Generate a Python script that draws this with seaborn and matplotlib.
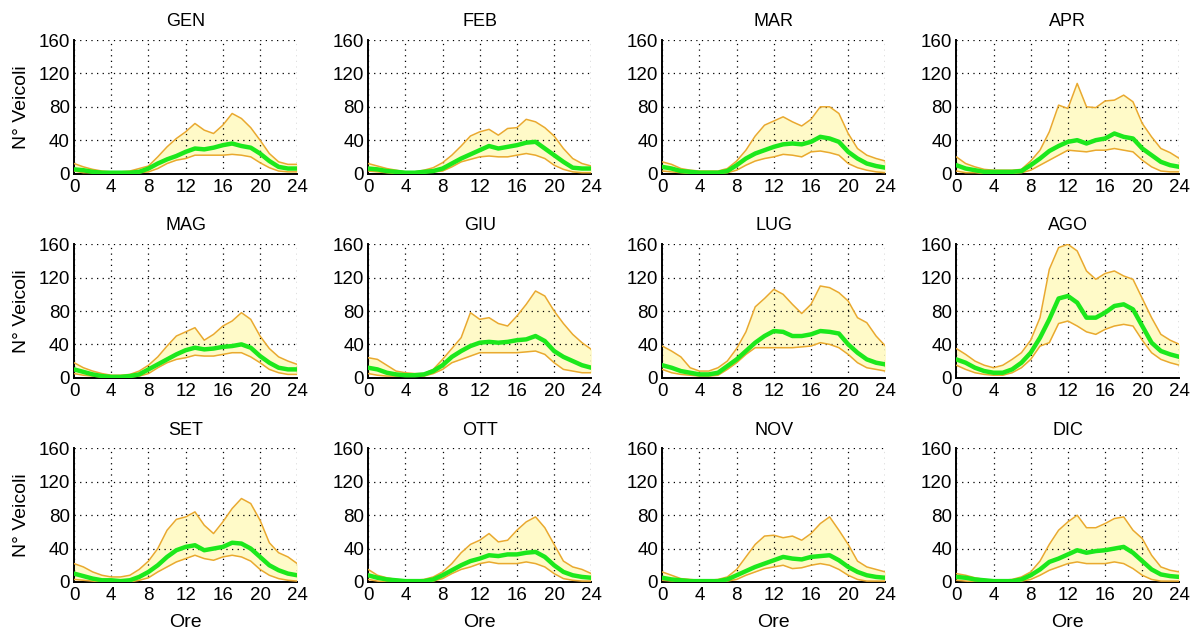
import numpy as np
import matplotlib
matplotlib.use("Agg")
import matplotlib.pyplot as plt
import seaborn as sns

# ore del giorno (campioni orari)
ore = list(range(25))

mesi = ["GEN", "FEB", "MAR", "APR", "MAG", "GIU", "LUG", "AGO", "SET", "OTT", "NOV", "DIC"]

gen_max = [12, 8, 5, 3, 2, 2, 3, 6, 9, 20, 32, 42, 50, 60, 52, 48, 58, 72, 66, 55, 40, 24, 14, 11, 11]
gen_med = [5, 4, 2, 1, 1, 1, 1, 2, 6, 12, 17, 21, 26, 30, 29, 31, 34, 36, 33, 31, 24, 15, 8, 6, 6]
gen_min = [3, 1, 1, 0, 0, 0, 0, 1, 2, 6, 12, 16, 18, 22, 22, 22, 22, 23, 22, 20, 13, 7, 3, 2, 2]

feb_max = [12, 9, 6, 4, 2, 2, 4, 7, 13, 22, 33, 45, 50, 53, 46, 54, 55, 65, 62, 55, 45, 30, 18, 12, 9]
feb_med = [6, 5, 3, 2, 1, 1, 2, 3, 6, 12, 18, 23, 28, 33, 30, 32, 34, 37, 38, 30, 22, 14, 7, 6, 6]
feb_min = [3, 2, 1, 0, 0, 0, 1, 2, 3, 8, 14, 17, 20, 21, 20, 20, 22, 24, 22, 18, 10, 5, 2, 1, 1]

mar_max = [14, 11, 6, 4, 3, 3, 3, 6, 15, 28, 45, 58, 63, 68, 62, 57, 65, 80, 80, 72, 48, 30, 22, 18, 15]
mar_med = [8, 6, 3, 2, 1, 1, 1, 3, 10, 18, 24, 28, 32, 35, 36, 35, 38, 44, 42, 38, 26, 18, 12, 9, 7]
mar_min = [3, 2, 1, 0, 0, 0, 0, 1, 4, 10, 15, 18, 20, 23, 22, 20, 26, 27, 25, 22, 12, 7, 4, 2, 1]

apr_max = [20, 12, 8, 5, 4, 4, 4, 5, 15, 28, 50, 82, 78, 108, 80, 79, 87, 88, 94, 86, 60, 44, 30, 25, 18]
apr_med = [10, 6, 4, 2, 2, 2, 2, 3, 10, 18, 27, 33, 38, 40, 36, 40, 42, 48, 44, 42, 30, 22, 14, 10, 8]
apr_min = [3, 1, 1, 0, 0, 0, 0, 1, 4, 10, 16, 22, 28, 27, 26, 28, 28, 30, 28, 26, 16, 8, 3, 2, 2]

mag_max = [18, 12, 8, 5, 3, 3, 4, 8, 15, 25, 38, 50, 55, 60, 45, 52, 62, 68, 78, 70, 50, 35, 25, 20, 16]
mag_med = [10, 7, 4, 2, 1, 1, 2, 4, 10, 16, 22, 28, 33, 36, 34, 35, 37, 38, 40, 36, 26, 18, 12, 10, 10]
mag_min = [5, 3, 2, 1, 1, 1, 1, 2, 5, 12, 18, 22, 24, 27, 26, 26, 28, 30, 30, 25, 18, 10, 6, 4, 4]

giu_max = [24, 22, 15, 8, 6, 5, 5, 10, 22, 35, 48, 78, 70, 72, 65, 62, 74, 88, 104, 98, 80, 65, 52, 42, 34]
giu_med = [12, 10, 6, 4, 3, 3, 4, 8, 15, 25, 32, 38, 42, 43, 42, 43, 45, 46, 50, 44, 32, 25, 20, 15, 12]
giu_min = [5, 3, 2, 2, 2, 2, 2, 5, 10, 18, 22, 26, 30, 30, 30, 30, 30, 31, 32, 28, 18, 10, 8, 6, 6]

lug_max = [38, 32, 25, 12, 8, 8, 12, 20, 35, 55, 85, 95, 106, 100, 88, 77, 88, 110, 108, 102, 92, 72, 66, 50, 38]
lug_med = [15, 12, 8, 6, 4, 4, 6, 14, 22, 32, 42, 50, 56, 55, 50, 50, 52, 56, 55, 53, 40, 30, 22, 18, 16]
lug_min = [10, 6, 4, 3, 2, 2, 3, 10, 18, 28, 36, 36, 36, 36, 36, 37, 38, 42, 40, 36, 28, 18, 12, 10, 8]

ago_max = [35, 28, 20, 15, 12, 15, 22, 30, 45, 72, 130, 156, 160, 152, 128, 118, 125, 128, 122, 118, 95, 72, 52, 45, 40]
ago_med = [22, 18, 12, 8, 6, 6, 10, 18, 30, 48, 70, 95, 98, 90, 72, 72, 78, 86, 88, 82, 62, 42, 32, 28, 25]
ago_min = [15, 10, 6, 4, 3, 3, 6, 12, 22, 38, 42, 65, 68, 62, 55, 52, 58, 62, 64, 62, 45, 30, 22, 18, 15]

set_max = [22, 18, 12, 8, 6, 6, 8, 15, 25, 40, 62, 75, 78, 84, 68, 58, 72, 88, 100, 94, 74, 47, 35, 30, 22]
set_med = [10, 7, 4, 2, 2, 1, 2, 6, 12, 20, 30, 38, 42, 44, 38, 40, 42, 47, 46, 40, 30, 20, 14, 10, 8]
set_min = [3, 2, 1, 0, 0, 0, 0, 2, 5, 12, 18, 24, 28, 32, 28, 26, 30, 32, 30, 25, 15, 8, 4, 2, 1]

ott_max = [15, 8, 5, 3, 2, 2, 3, 6, 12, 22, 35, 45, 50, 58, 48, 50, 62, 72, 78, 65, 45, 25, 18, 15, 10]
ott_med = [8, 5, 3, 2, 1, 1, 1, 3, 8, 14, 20, 25, 28, 32, 31, 33, 33, 35, 36, 30, 20, 12, 8, 6, 5]
ott_min = [3, 1, 0, 0, 0, 0, 0, 1, 4, 10, 15, 18, 22, 24, 22, 22, 22, 24, 22, 18, 10, 4, 2, 1, 1]

nov_max = [12, 8, 4, 3, 2, 2, 3, 6, 15, 30, 45, 55, 56, 53, 55, 50, 58, 70, 78, 62, 45, 25, 18, 15, 12]
nov_med = [5, 3, 2, 1, 1, 1, 1, 3, 8, 13, 18, 22, 26, 30, 28, 27, 30, 31, 32, 26, 18, 12, 8, 6, 5]
nov_min = [2, 1, 0, 0, 0, 0, 0, 1, 3, 8, 12, 16, 18, 20, 16, 17, 20, 22, 20, 15, 8, 3, 1, 1, 1]

dic_max = [10, 8, 5, 3, 2, 2, 3, 6, 12, 25, 45, 62, 72, 80, 65, 65, 70, 76, 78, 62, 52, 32, 18, 14, 12]
dic_med = [6, 5, 3, 2, 1, 1, 1, 3, 8, 15, 24, 28, 33, 38, 35, 37, 38, 40, 42, 35, 25, 15, 9, 7, 6]
dic_min = [2, 1, 0, 0, 0, 0, 0, 1, 3, 8, 14, 18, 22, 24, 22, 22, 22, 24, 22, 16, 8, 3, 1, 1, 1]

serie_max = [gen_max, feb_max, mar_max, apr_max, mag_max, giu_max,
             lug_max, ago_max, set_max, ott_max, nov_max, dic_max]
serie_med = [gen_med, feb_med, mar_med, apr_med, mag_med, giu_med,
             lug_med, ago_med, set_med, ott_med, nov_med, dic_med]
serie_min = [gen_min, feb_min, mar_min, apr_min, mag_min, giu_min,
             lug_min, ago_min, set_min, ott_min, nov_min, dic_min]

x_ticks = [0, 4, 8, 12, 16, 20, 24]
y_ticks = [0, 40, 80, 120, 160]

col_arancio = "#E9A92F"
col_giallo = "#FFFAC8"
col_verde = "#1CE81C"

sns.set_style("white")
plt.rcParams["font.family"] = ["Liberation Sans", "DejaVu Sans"]
plt.rcParams["text.color"] = "black"
plt.rcParams["axes.labelcolor"] = "black"

fig, axes = plt.subplots(3, 4, figsize=(11.95, 6.36), dpi=100)
fig.subplots_adjust(left=0.062, right=0.987, top=0.937, bottom=0.085,
                    wspace=0.318, hspace=0.53)

for i, ax in enumerate(axes.flat):
    ax.fill_between(ore, serie_min[i], serie_max[i], color=col_giallo, lw=0, zorder=1)
    sns.lineplot(x=ore, y=serie_max[i], ax=ax, color=col_arancio, linewidth=1.1, zorder=3)
    sns.lineplot(x=ore, y=serie_min[i], ax=ax, color=col_arancio, linewidth=1.1, zorder=3)
    sns.lineplot(x=ore, y=serie_med[i], ax=ax, color=col_verde, linewidth=3.2, zorder=4)

    ax.set_xlim(0, 24)
    ax.set_ylim(0, 160)
    ax.set_xticks(x_ticks)
    ax.set_yticks(y_ticks)
    ax.grid(True, color="black", linestyle=(0, (1, 3.5)), linewidth=0.9, zorder=2)
    ax.set_axisbelow(False)
    for s in ["top", "right"]:
        ax.spines[s].set_visible(False)
    for s in ["left", "bottom"]:
        ax.spines[s].set_color("black")
        ax.spines[s].set_linewidth(1.4)
    ax.tick_params(axis="y", direction="in", length=3, width=1, labelsize=13.5,
                   pad=3, colors="black")
    ax.tick_params(axis="x", direction="in", length=3, width=1, labelsize=13.5,
                   pad=4, colors="black")
    ax.set_title(mesi[i], fontsize=13, pad=10, color="black")
    if i % 4 == 0:
        ax.set_ylabel("N° Veicoli", fontsize=14, labelpad=6)
    if i >= 8:
        ax.set_xlabel("Ore", fontsize=14, labelpad=7)

fig.savefig("out.png", dpi=100, facecolor="white")
